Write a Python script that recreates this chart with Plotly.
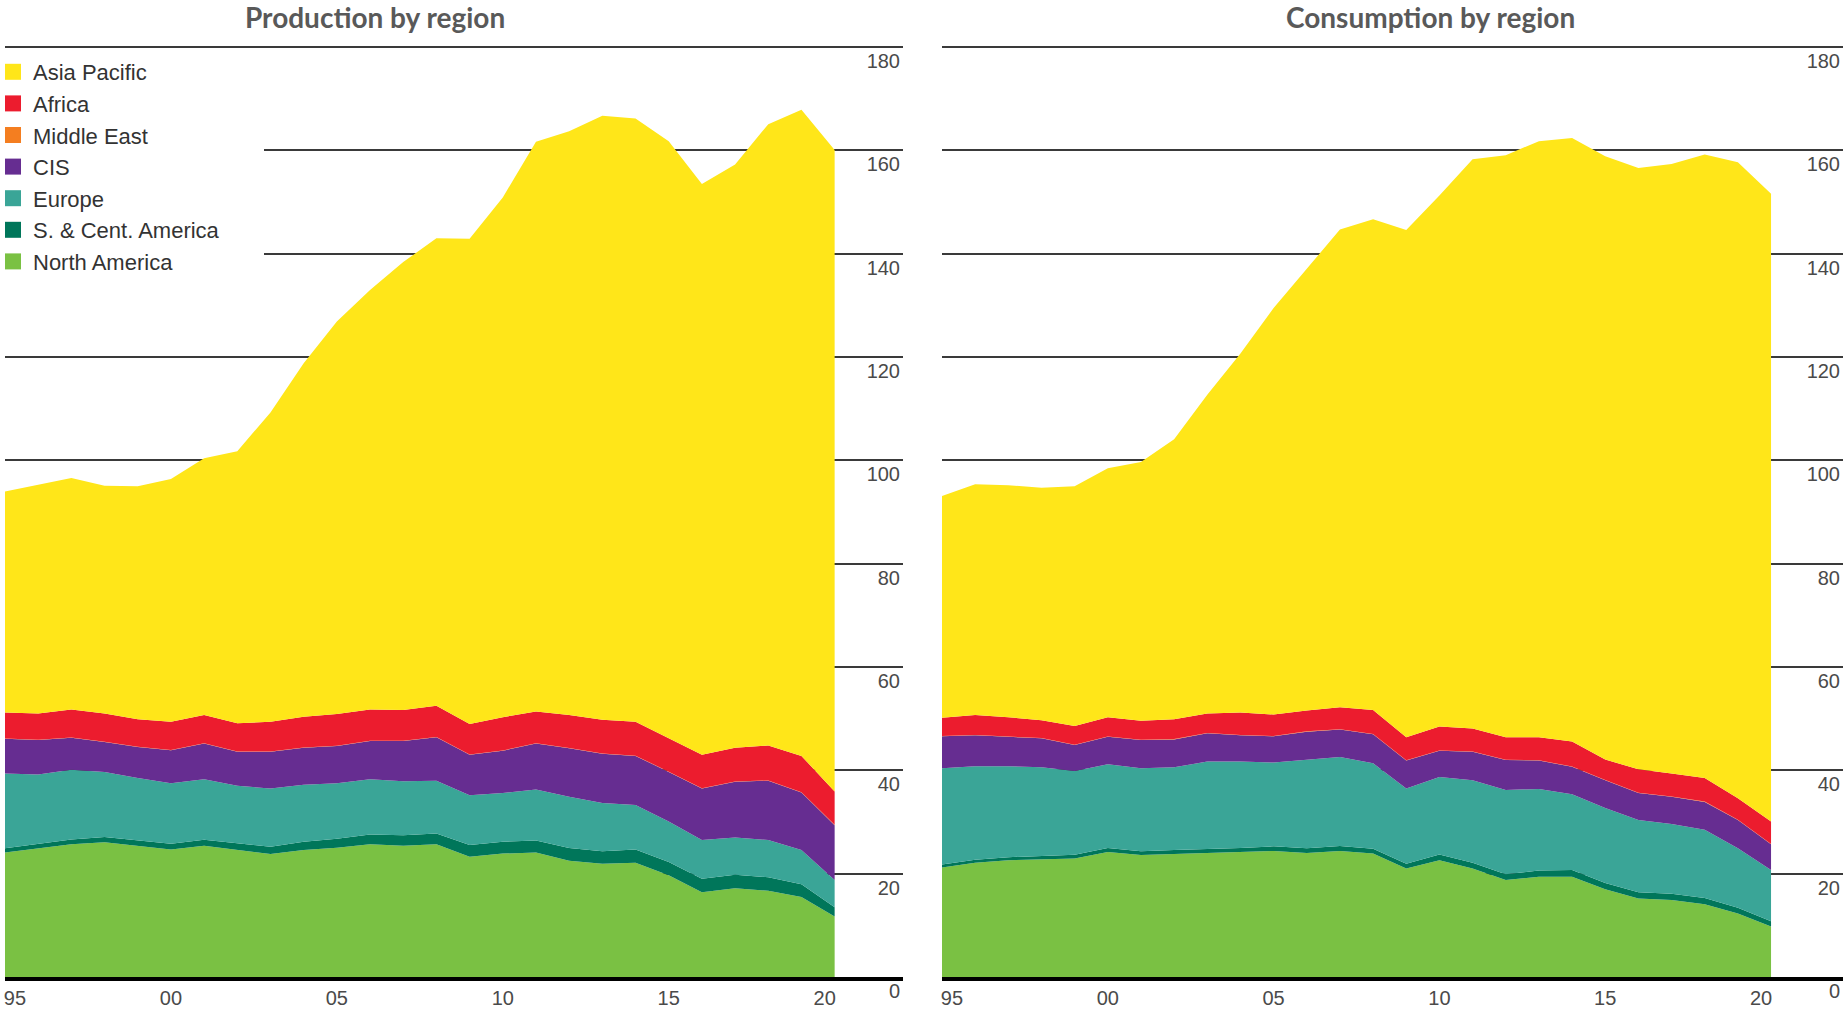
import plotly.graph_objects as go

years = list(range(1995, 2021))

regions = ["North America", "S. & Cent. America", "Europe", "CIS", "Middle East", "Africa", "Asia Pacific"]
colors = {
    "Asia Pacific": "#FFE619",
    "Africa": "#EC1C2E",
    "Middle East": "#F47E20",
    "CIS": "#662D91",
    "Europe": "#3AA597",
    "S. & Cent. America": "#00765A",
    "North America": "#7AC143",
}

# Production by region
prod_north_america = [24.1, 24.9, 25.7, 26.1, 25.4, 24.7, 25.4, 24.6, 23.8, 24.6, 25.0, 25.7, 25.4,
                      25.7, 23.3, 23.9, 24.1, 22.5, 21.9, 22.1, 19.7, 16.4, 17.2, 16.7, 15.5, 11.7]
prod_sc_america = [0.8, 0.85, 0.9, 1.0, 1.0, 1.1, 1.15, 1.3, 1.4, 1.6, 1.75, 1.9, 2.05,
                   2.1, 2.25, 2.3, 2.3, 2.45, 2.45, 2.6, 2.55, 2.6, 2.6, 2.6, 2.45, 1.8]
prod_europe = [14.5, 13.45, 13.5, 12.6, 12.1, 11.7, 11.75, 11.1, 11.3, 11.0, 10.75, 10.7, 10.45,
               10.2, 9.65, 9.4, 9.9, 9.95, 9.35, 8.6, 7.85, 7.5, 7.2, 7.2, 6.65, 5.3]
prod_cis = [6.7, 6.7, 6.2, 5.8, 6.0, 6.4, 6.9, 6.6, 7.1, 7.2, 7.2, 7.4, 7.8,
            8.4, 7.8, 8.2, 8.9, 9.4, 9.5, 9.5, 9.6, 10.0, 10.8, 11.5, 11.1, 10.6]
prod_middle_east = [0.05, 0.05, 0.05, 0.05, 0.05, 0.05, 0.05, 0.05, 0.05, 0.05, 0.05, 0.05, 0.05,
                    0.05, 0.05, 0.05, 0.05, 0.05, 0.05, 0.05, 0.05, 0.05, 0.05, 0.05, 0.05, 0.05]
prod_africa = [5.05, 5.05, 5.45, 5.45, 5.35, 5.45, 5.45, 5.45, 5.75, 5.95, 6.15, 6.05, 5.95,
               6.05, 5.95, 6.45, 6.15, 6.35, 6.55, 6.55, 6.45, 6.45, 6.55, 6.75, 7.05, 6.45]
prod_asia_pacific = [42.8, 44.3, 44.8, 44.1, 45.1, 47.0, 49.7, 52.7, 59.9, 68.4, 76.0, 81.2, 86.7,
                     90.5, 93.9, 100.6, 110.3, 113.0, 116.9, 116.8, 115.6, 110.5, 112.9, 120.3, 125.1, 124.2]

# Consumption by region
cons_north_america = [21.2, 22.1, 22.6, 22.8, 22.95, 24.2, 23.6, 23.8, 24.0, 24.1, 24.4, 24.0, 24.4,
                      23.9, 21.0, 22.6, 21.0, 18.8, 19.4, 19.4, 17.0, 15.2, 14.9, 14.1, 12.3, 9.8]
cons_sc_america = [0.6, 0.6, 0.6, 0.65, 0.7, 0.75, 0.75, 0.8, 0.8, 0.85, 0.9, 0.9, 0.95,
                   0.95, 0.9, 1.1, 1.1, 1.1, 1.2, 1.3, 1.2, 1.2, 1.2, 1.2, 1.1, 1.0]
cons_europe = [18.6, 18.1, 17.6, 17.15, 16.25, 16.25, 16.05, 16.0, 16.9, 16.75, 16.2, 17.1, 17.25,
               16.55, 14.6, 15.0, 16.0, 16.3, 15.8, 14.7, 14.5, 14.0, 13.5, 13.2, 11.5, 9.9]
cons_cis = [6.2, 6.0, 5.7, 5.6, 5.0, 5.3, 5.5, 5.4, 5.5, 5.1, 5.1, 5.5, 5.3,
            5.6, 5.4, 5.1, 5.5, 5.8, 5.5, 5.3, 5.4, 5.2, 5.3, 5.4, 5.5, 5.0]
cons_middle_east = [0.05, 0.05, 0.05, 0.05, 0.05, 0.05, 0.05, 0.05, 0.05, 0.05, 0.05, 0.05, 0.05,
                    0.05, 0.05, 0.05, 0.05, 0.05, 0.05, 0.05, 0.05, 0.05, 0.05, 0.05, 0.05, 0.05]
cons_africa = [3.55, 3.85, 3.75, 3.45, 3.65, 3.75, 3.65, 3.85, 3.75, 4.35, 4.15, 4.05, 4.25,
               4.65, 4.45, 4.65, 4.45, 4.35, 4.45, 4.85, 3.95, 4.55, 4.45, 4.55, 4.15, 4.35]
cons_asia_pacific = [42.9, 44.7, 44.9, 45.0, 46.4, 48.2, 50.1, 54.2, 61.7, 69.5, 78.7, 85.4, 92.5,
                     95.0, 98.2, 102.8, 110.2, 112.7, 115.4, 116.8, 116.8, 116.4, 118.0, 120.7, 123.1, 121.5]

xtick_years = [1995, 2000, 2005, 2010, 2015, 2020]
xtick_text = ["95", "00", "05", "10", "15", "20"]
ytick_vals = [0, 20, 40, 60, 80, 100, 120, 140, 160, 180]

titles = ["Production by region", "Consumption by region"]

production = [prod_north_america, prod_sc_america, prod_europe, prod_cis,
              prod_middle_east, prod_africa, prod_asia_pacific]
consumption = [cons_north_america, cons_sc_america, cons_europe, cons_cis,
               cons_middle_east, cons_africa, cons_asia_pacific]

W, H = 1843, 1009
fig = go.Figure()

for name, vals in zip(regions, production):
    fig.add_trace(go.Scatter(x=years, y=vals, name=name, stackgroup="prod", mode="lines",
                             line=dict(width=0, color=colors[name]), fillcolor=colors[name],
                             showlegend=False, xaxis="x", yaxis="y", hoverinfo="x+y+name"))
for name, vals in zip(regions, consumption):
    fig.add_trace(go.Scatter(x=years, y=vals, name=name, stackgroup="cons", mode="lines",
                             line=dict(width=0, color=colors[name]), fillcolor=colors[name],
                             showlegend=False, xaxis="x2", yaxis="y2", hoverinfo="x+y+name"))

# legend entries (square swatches), top to bottom
for name in reversed(regions):
    fig.add_trace(go.Scatter(x=[None], y=[None], mode="markers", name=name,
                             marker=dict(symbol="square", size=16, color=colors[name]),
                             showlegend=True, xaxis="x", yaxis="y"))

tick_font = dict(family="Liberation Sans, Arial, sans-serif", size=20, color="#4a4a4a")
nudge = [0.3, 0, 0, 0, 0, -0.3]
tickpos = [y + d for y, d in zip(xtick_years, nudge)]

y_bottom = (H - 977) / H
y_top = (H - 42) / H

common_x = dict(showgrid=False, zeroline=False, showline=True, linecolor="black", linewidth=4,
                ticks="", tickvals=tickpos, ticktext=xtick_text, tickfont=tick_font,
                fixedrange=True)
common_y = dict(range=[0, 181], domain=[y_bottom, y_top], side="right", showgrid=True,
                gridcolor="#3a3a3a", gridwidth=2, zeroline=False, showline=False,
                tickvals=ytick_vals, ticks="", ticklabelposition="inside bottom",
                ticklabeloverflow="allow", tickfont=tick_font, fixedrange=True)

title_font = dict(family="Lato, Open Sans, sans-serif", size=28, color="#595959")

fig.update_layout(
    width=W, height=H,
    margin=dict(l=0, r=0, t=0, b=0, autoexpand=False),
    paper_bgcolor="white", plot_bgcolor="white",
    xaxis=dict(domain=[5 / W, 903 / W], range=[1995, 2022.06], anchor="y", **common_x),
    yaxis=dict(anchor="x", **common_y),
    xaxis2=dict(domain=[942 / W, 1.0], range=[1995, 2022.17], anchor="y2", **common_x),
    yaxis2=dict(anchor="x2", **common_y),
    showlegend=True,
    legend=dict(x=-7 / W, y=(H - 51) / H, xanchor="left", yanchor="top",
                traceorder="normal", bgcolor="white", borderwidth=0,
                font=dict(family="Liberation Sans, Arial, sans-serif", size=22, color="#333333"),
                itemclick=False, itemdoubleclick=False),
    shapes=[
        # white panel behind the legend hiding the gridlines
        dict(type="rect", xref="paper", yref="paper", x0=0, x1=264 / W,
             y0=(H - 282) / H, y1=(H - 56) / H, fillcolor="white", line=dict(width=0),
             layer="above"),
    ],
    annotations=[
        dict(text="<b>%s</b>" % titles[0], x=375 / W, y=(H - 17) / H, xref="paper", yref="paper",
             showarrow=False, xanchor="center", yanchor="middle", font=title_font),
        dict(text="<b>%s</b>" % titles[1], x=1430.5 / W, y=(H - 17) / H, xref="paper", yref="paper",
             showarrow=False, xanchor="center", yanchor="middle", font=title_font),
    ],
)

fig.write_html("out.html", config={"displayModeBar": False},
               post_script="document.body.style.margin='0px';document.body.style.overflow='hidden';")
